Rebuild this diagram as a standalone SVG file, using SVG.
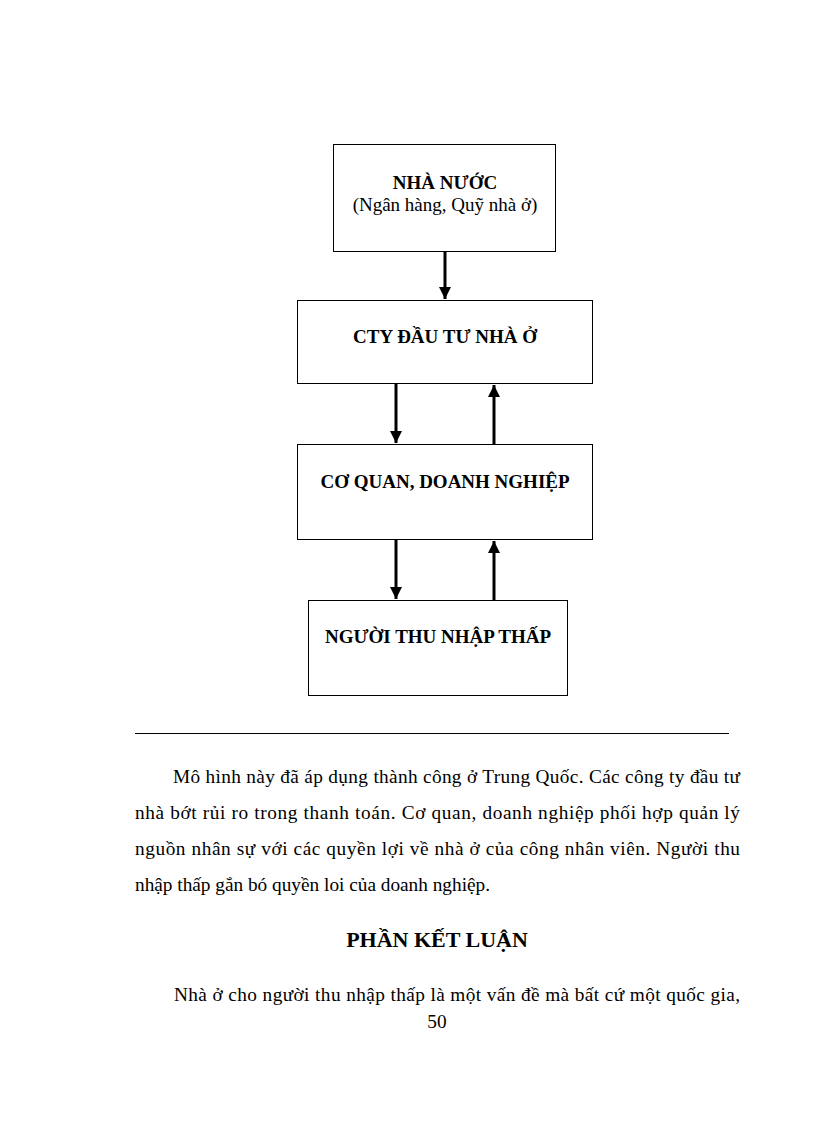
<svg xmlns="http://www.w3.org/2000/svg" width="816" height="1123" viewBox="0 0 816 1123">
<defs>
<marker id="ah" viewBox="0 0 10 10" refX="10" refY="5" markerWidth="4" markerHeight="4" markerUnits="strokeWidth" orient="auto">
<path d="M0,0 L10,5 L0,10 Z" fill="#000"/>
</marker>
<style>
.box{fill:#fff;stroke:#000;stroke-width:1}
.bt{font-family:"Liberation Serif","Times New Roman",serif;font-weight:bold;font-size:19px;text-anchor:middle;fill:#000}
.nt{font-family:"Liberation Serif","Times New Roman",serif;font-size:19px;text-anchor:middle;fill:#000}
.conn{stroke:#000;stroke-width:3;fill:none;marker-end:url(#ah)}
.p{font-family:"Liberation Serif","Times New Roman",serif;font-size:19.3px;fill:#000}
.h{font-family:"Liberation Serif","Times New Roman",serif;font-weight:bold;font-size:22px;text-anchor:middle;fill:#000}
</style>
</defs>
<rect width="816" height="1123" fill="#fff"/>
<g id="node-nha-nuoc">
<rect class="box" x="333.5" y="144.5" width="222" height="107"/>
<text class="bt" x="445" y="189">NHÀ NƯỚC</text>
<text class="nt" x="445" y="211">(Ngân hàng, Quỹ nhà ở)</text>
</g>
<g id="node-cty">
<rect class="box" x="297.5" y="300.5" width="295" height="83"/>
<text class="bt" x="445" y="343">CTY ĐẦU TƯ NHÀ Ở</text>
</g>
<g id="node-co-quan">
<rect class="box" x="297.5" y="444.5" width="295" height="95"/>
<text class="bt" x="445" y="488">CƠ QUAN, DOANH NGHIỆP</text>
</g>
<g id="node-nguoi">
<rect class="box" x="308.5" y="600.5" width="259" height="95"/>
<text class="bt" x="438" y="643">NGƯỜI THU NHẬP THẤP</text>
</g>
<g id="connectors">
<line class="conn" x1="445" y1="252" x2="445" y2="299"/>
<line class="conn" x1="396" y1="384" x2="396" y2="443"/>
<line class="conn" x1="494" y1="444" x2="494" y2="385"/>
<line class="conn" x1="396" y1="540" x2="396" y2="599"/>
<line class="conn" x1="494" y1="600" x2="494" y2="541"/>
</g>
<line x1="135" y1="733.5" x2="729" y2="733.5" stroke="#000" stroke-width="1"/>
<text class="p" x="173" y="783" textLength="567" lengthAdjust="spacing">Mô hình này đã áp dụng thành công ở Trung Quốc. Các công ty đầu tư</text>
<text class="p" x="135" y="819" textLength="605" lengthAdjust="spacing">nhà bớt rủi ro trong thanh toán. Cơ quan, doanh nghiệp phối hợp quản lý</text>
<text class="p" x="135" y="855" textLength="605" lengthAdjust="spacing">nguồn nhân sự với các quyền lợi về nhà ở của công nhân viên. Người thu</text>
<text class="p" x="135" y="891">nhập thấp gắn bó quyền loi của doanh nghiệp.</text>
<text class="h" x="437" y="947">PHẦN KẾT LUẬN</text>
<text class="p" x="174" y="1001" textLength="566" lengthAdjust="spacing">Nhà ở cho người thu nhập thấp là một vấn đề mà bất cứ một quốc gia,</text>
<text class="p" x="437" y="1028" text-anchor="middle">50</text>
</svg>
